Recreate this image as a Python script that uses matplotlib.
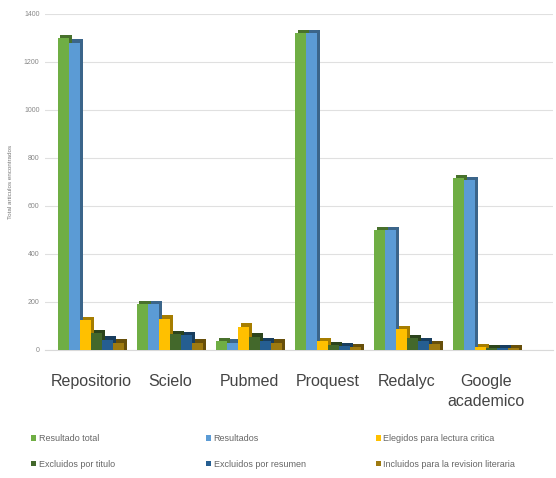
import numpy as np
import matplotlib
matplotlib.use("Agg")
import matplotlib.pyplot as plt
from matplotlib.colors import to_rgb

plt.rcParams['font.family'] = ['Liberation Sans', 'DejaVu Sans']

categories = ['Repositorio', 'Scielo', 'Pubmed', 'Proquest', 'Redalyc', 'Google\nacademico']
series_names = ['Resultado total', 'Resultados', 'Elegidos para lectura critica',
                'Excluidos por titulo', 'Excluidos por resumen', 'Incluidos para la revision literaria']
resultado_total = [1300, 190, 37, 1320, 500, 715]
resultados = [1280, 190, 30, 1320, 498, 708]
elegidos = [125, 130, 96, 35, 85, 10]
excl_titulo = [70, 66, 55, 20, 50, 6]
excl_resumen = [42, 62, 35, 15, 35, 6]
incluidos = [30, 30, 30, 10, 25, 6]
values = [resultado_total, resultados, elegidos, excl_titulo, excl_resumen, incluidos]
colors = ['#6fae44', '#5b9bd5', '#ffc000', '#43682b', '#255e91', '#9e7a10']

def shade(c, f):
    r, g, b = to_rgb(c)
    return (r * f, g * f, b * f)

fig = plt.figure(figsize=(5.56, 4.78), dpi=100)
ax = fig.add_axes([0.081, 0.268, 0.914, 0.703])

x = np.arange(len(categories))
w = 0.14
dx, dy = 0.035, 14  # fake depth
handles = []
for i, (vals, c) in enumerate(zip(values, colors)):
    pos = x - 2.5 * w + i * w
    ax.bar(pos + dx, np.array(vals) + dy, width=w, color=shade(c, 0.65),
           zorder=2 + i * 2, linewidth=0)
    b = ax.bar(pos, vals, width=w, color=c, zorder=3 + i * 2, linewidth=0,
               label=series_names[i])
    handles.append(b)

ax.set_xlim(-0.58, 5.85)
ax.set_ylim(0, 1400)
ax.set_yticks(range(0, 1401, 200))
ax.tick_params(axis='y', labelsize=5, colors='#888888', length=0, pad=4)
ax.tick_params(axis='x', length=0, pad=17)
ax.set_xticks(x)
ax.set_xticklabels(categories, fontsize=11.5, color='#444444', linespacing=1.45)
ax.grid(axis='y', color='#e0e0e0', linewidth=0.8, zorder=0)
for s in ['top', 'right', 'left']:
    ax.spines[s].set_visible(False)
ax.spines['bottom'].set_color('#d9d9d9')
ax.set_ylabel('Total articulos encontrados', fontsize=4.5, color='#777777', labelpad=8)

# legend: three columns, two rows
col_x = [0.045, 0.36, 0.665]
for j in range(3):
    idx = [j, j + 3]
    fig.legend([handles[k] for k in idx], [series_names[k] for k in idx],
               loc='lower left', bbox_to_anchor=(col_x[j], 0.006), frameon=False,
               fontsize=6.5, handlelength=0.5, handleheight=0.6, handletextpad=0.3,
               labelspacing=1.85, labelcolor='#666666', borderaxespad=0.3)

fig.savefig('out.png', dpi=100, facecolor='white')
